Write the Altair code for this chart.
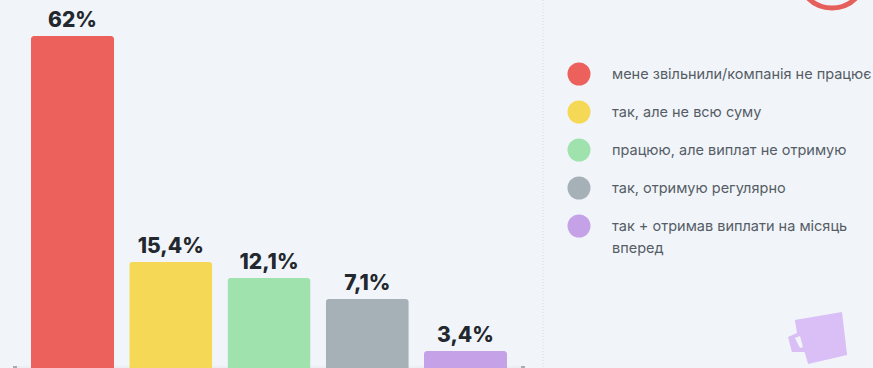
import altair as alt
import pandas as pd

categories = [
    "мене звільнили/компанія не працює",
    "так, але не всю суму",
    "працюю, але виплат не отримую",
    "так, отримую регулярно",
    "так + отримав виплати на місяць\nвперед",
]
shares = [62, 15.4, 12.1, 7.1, 3.4]
colors = ["#EC615B", "#F5D855", "#9FE2AE", "#A5B0B7", "#C5A2E8"]

# The column heights are not proportional to the percentages: the axis is
# stretched between these stops.
scale_stops = [0, 3.4, 7.1, 12.1, 15.4, 62]
scale_pixels = [368, 351, 299, 278, 262, 36]

BACKGROUND = "#F1F5F9"
TITLE_FONT = "Inter"

CUP_SHAPE = (
    "M-0.77,-0.6 L0.8,-0.87 L0.97,0.57 L-0.33,0.87 L-0.45,0.47 L-0.87,0.47 L-1,-0.03 L-0.7,-0.17 Z "
    "M-0.77,0 L-0.6,0.33 L-0.5,0.3 L-0.6,-0.07 Z"
)

table = pd.DataFrame(
    {
        "category": categories,
        "share": shares,
        "label": [f"{v:g}%".replace(".", ",") for v in shares],
    }
)
single = pd.DataFrame({"a": [0]})

x = alt.X(
    "category:N",
    sort=categories,
    axis=None,
    scale=alt.Scale(range=[31, 507], paddingInner=0.155, paddingOuter=0),
)
y = alt.Y(
    "share:Q",
    axis=None,
    scale=alt.Scale(domain=scale_stops, range=scale_pixels),
)
color = alt.Color(
    "category:N",
    legend=None,
    scale=alt.Scale(domain=categories, range=colors),
)
row = alt.Y(
    "category:N",
    sort=categories,
    axis=None,
    scale=alt.Scale(type="point", domain=categories, range=[74, 226], padding=0),
)

base = alt.Chart(table)

bars = base.mark_bar(cornerRadiusTopLeft=3, cornerRadiusTopRight=3).encode(
    x=x, y=y, color=color
)
values = base.mark_text(
    baseline="bottom", dy=-5, font=TITLE_FONT, fontSize=21, fontWeight=800, color="#23272E"
).encode(x=x, y=y, text="label:N")

dots = base.mark_circle(size=529, opacity=1).encode(
    x=alt.value(579), y=row, color=color
)
names = base.mark_text(
    align="left",
    baseline="top",
    dy=-6,
    font=TITLE_FONT,
    fontSize=14.5,
    color="#565D66",
    lineBreak="\n",
    lineHeight=22,
).encode(x=alt.value(612), y=row, text="category:N")

divider = alt.Chart(single).mark_rule(
    color="#D5DAE0", strokeDash=[1, 2], strokeWidth=1
).encode(x=alt.value(543), y=alt.value(0), y2=alt.value(368))

baseline = alt.Chart(single).mark_rule(color="#E6EAEE", strokeWidth=1).encode(
    x=alt.value(14), x2=alt.value(524), y=alt.value(367)
)
baseline_left = alt.Chart(single).mark_rule(color="#8E949B", strokeWidth=1.5).encode(
    x=alt.value(13), x2=alt.value(17), y=alt.value(367)
)
baseline_right = alt.Chart(single).mark_rule(color="#8E949B", strokeWidth=1.5).encode(
    x=alt.value(521), x2=alt.value(525), y=alt.value(367)
)

ring = alt.Chart(single).mark_point(
    shape="circle", size=4624, filled=False, color="#E5605A", strokeWidth=5, opacity=1
).encode(x=alt.value(832), y=alt.value(-26))

cup = alt.Chart(single).mark_point(
    shape=CUP_SHAPE, size=3600, filled=True, color="#D9BFF6", opacity=1
).encode(x=alt.value(818), y=alt.value(338))

chart = (
    alt.layer(
        divider, baseline, baseline_left, baseline_right, ring, cup,
        bars, values, dots, names,
    )
    .resolve_scale(y="independent")
    .properties(
        width=873,
        height=368,
        padding=0,
        background=BACKGROUND,
        autosize=alt.AutoSizeParams(type="none"),
    )
    .configure_view(stroke=None)
)

chart.save("out.html", embed_options={"renderer": "svg", "actions": False})
